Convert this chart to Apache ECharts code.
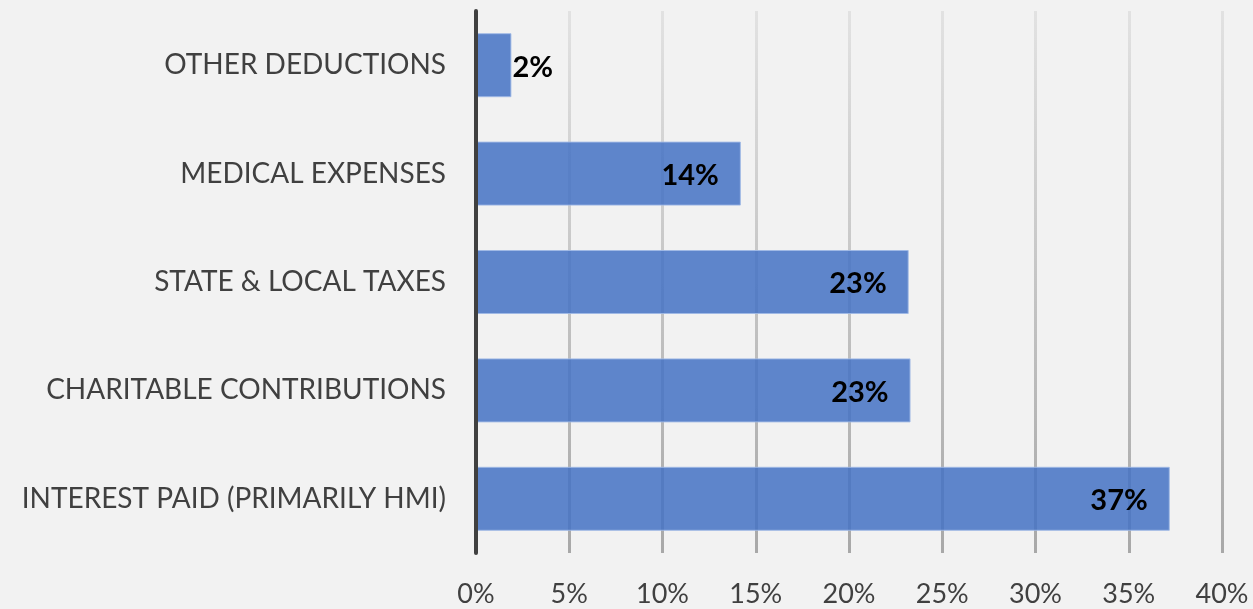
<!DOCTYPE html>
<html>
<head>
<meta charset="utf-8">
<script src="https://cdn.jsdelivr.net/npm/echarts@6/dist/echarts.min.js"></script>
<style>
  html, body { margin: 0; padding: 0; background: #f2f2f2; }
  #chart { width: 1253px; height: 609px; }
</style>
</head>
<body>
<div id="chart"></div>
<script>
// categories listed top to bottom
var categories = ['OTHER DEDUCTIONS', 'MEDICAL EXPENSES', 'STATE & LOCAL TAXES', 'CHARITABLE CONTRIBUTIONS', 'INTEREST PAID (PRIMARILY HMI)'];
var shares = [1.9, 14.2, 23.2, 23.3, 37.2];
var tickValues = [0, 5, 10, 15, 20, 25, 30, 35, 40];

var chart = echarts.init(document.getElementById('chart'));

var barData = shares.map(function (v, i) {
  var item = { value: v };
  // the smallest bar is too short for its label, so it sits outside
  if (v < 5) {
    item.label = { position: 'right', distance: 1 };
  }
  return item;
});

chart.setOption({
  backgroundColor: '#f2f2f2',
  animation: false,
  grid: { left: 476, right: 31, top: 11, bottom: 56 },
  xAxis: {
    type: 'value',
    min: tickValues[0],
    max: tickValues[tickValues.length - 1],
    interval: 5,
    axisLine: { show: false },
    axisTick: { show: false },
    axisLabel: {
      color: '#404040',
      fontFamily: 'Lato',
      fontSize: 27,
      margin: 28,
      formatter: '{value}%'
    },
    splitLine: {
      show: true,
      lineStyle: {
        width: 3,
        color: new echarts.graphic.LinearGradient(0, 0, 0, 1, [
          { offset: 0, color: '#e2e2e2' },
          { offset: 1, color: '#a8a8a8' }
        ])
      }
    }
  },
  yAxis: {
    type: 'category',
    inverse: true,
    data: categories,
    z: 5,
    axisLine: { show: true, lineStyle: { color: '#404040', width: 4 } },
    axisTick: { show: false },
    axisLabel: {
      color: '#404040',
      fontFamily: 'Lato',
      fontSize: 28,
      margin: 30
    }
  },
  series: [{
    type: 'bar',
    data: barData,
    barWidth: 64,
    itemStyle: {
      color: 'rgba(68,114,196,0.85)',
      borderColor: 'rgba(160,185,230,0.9)',
      borderWidth: 1
    },
    label: {
      show: true,
      position: 'insideRight',
      distance: 22,
      offset: [0, 2],
      color: '#000',
      fontFamily: 'Lato',
      fontWeight: 'bold',
      fontSize: 29,
      formatter: function (p) { return Math.round(p.value) + '%'; }
    }
  }]
});
</script>
</body>
</html>
